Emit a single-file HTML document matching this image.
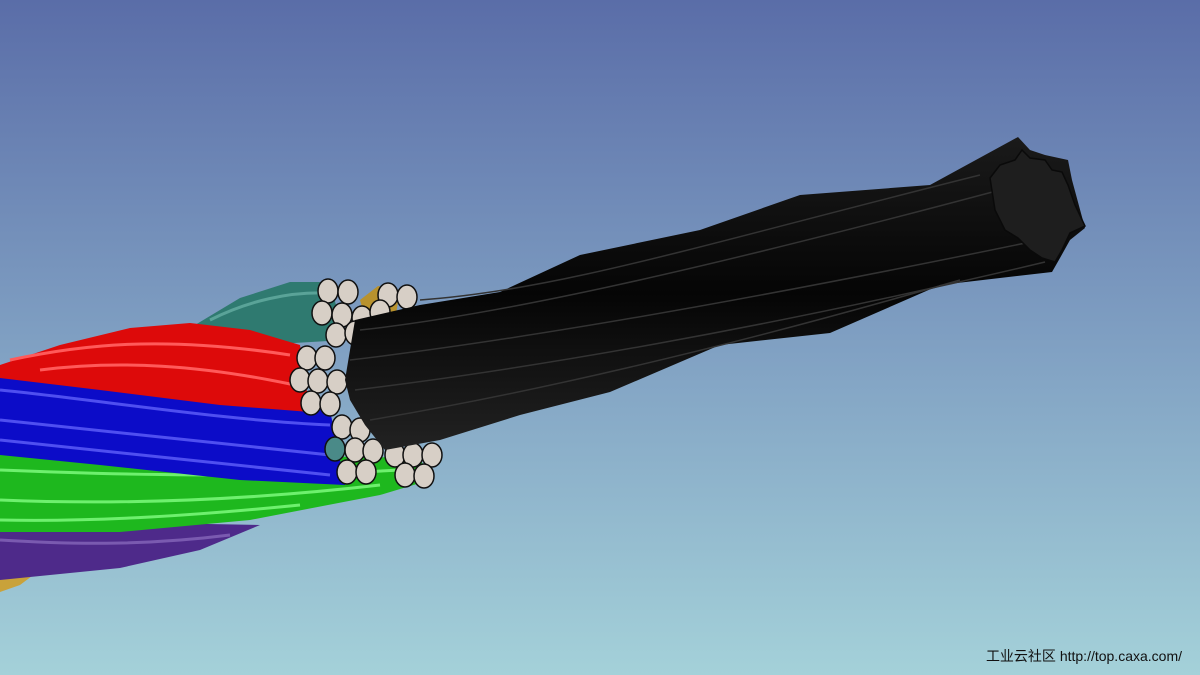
<!DOCTYPE html>
<html><head><meta charset="utf-8"><style>
html,body{margin:0;padding:0;width:1200px;height:675px;overflow:hidden}
.wm{position:absolute;right:18px;bottom:9px;font:14px "Liberation Sans","Noto Sans CJK SC",sans-serif;color:#111}
</style></head><body>
<svg width="1200" height="675" viewBox="0 0 1200 675" style="position:absolute;left:0;top:0">
<defs>
<linearGradient id="bg" x1="0" y1="0" x2="0" y2="1"><stop offset="0" stop-color="#5a6da8"/><stop offset="0.5" stop-color="#7f9fc2"/><stop offset="1" stop-color="#a4d1d9"/></linearGradient>
<linearGradient id="blk" x1="0" y1="0" x2="0" y2="1"><stop offset="0" stop-color="#1a1a1a"/><stop offset="0.5" stop-color="#050505"/><stop offset="1" stop-color="#222"/></linearGradient>
</defs>
<rect width="1200" height="675" fill="url(#bg)"/>
<polygon points="0,578 40,570 20,585 0,592" fill="#c9a23a"/>
<polygon points="360,300 378,286 400,290 395,320 365,318" fill="#b8922e"/>
<polygon points="0,520 260,525 200,550 120,568 0,580" fill="#4e2a8a"/>
<path d="M0,540 C80,545 150,545 230,535" stroke="#7a5ab0" stroke-width="3" fill="none"/>
<polygon points="195,325 240,298 290,282 330,282 345,340 260,345 200,335" fill="#2f7a70"/>
<path d="M210,320 C250,300 290,292 325,293" stroke="#5aa398" stroke-width="3" fill="none"/>
<polygon points="0,450 80,452 250,455 420,458 430,480 380,495 250,520 120,532 0,532" fill="#1eb81e"/>
<path d="M0,470 C120,475 260,478 400,470 M0,500 C120,505 250,500 380,485 M0,520 C100,522 200,515 300,505" stroke="#6ef06e" stroke-width="3" fill="none"/>
<polygon points="0,372 120,385 240,400 330,410 345,485 240,480 100,465 0,455" fill="#0c0cc8"/>
<path d="M0,390 C100,400 220,420 330,425 M0,420 C100,430 230,445 330,455 M0,440 C100,450 230,465 330,475" stroke="#4f4ff0" stroke-width="3" fill="none"/>
<polygon points="0,365 60,345 130,328 190,323 250,330 300,345 310,412 220,405 100,390 0,378" fill="#dd0a0a"/>
<path d="M10,360 C80,345 160,335 290,355 M40,370 C120,360 200,365 295,385" stroke="#ff5a5a" stroke-width="3" fill="none"/>
<g fill="#d7cfc6" stroke="#111" stroke-width="1.5">
<ellipse cx="328" cy="291" rx="10" ry="12"/><ellipse cx="348" cy="292" rx="10" ry="12"/>
<ellipse cx="322" cy="313" rx="10" ry="12"/><ellipse cx="342" cy="315" rx="10" ry="12"/><ellipse cx="362" cy="318" rx="10" ry="12"/>
<ellipse cx="336" cy="335" rx="10" ry="12"/><ellipse cx="355" cy="333" rx="10" ry="12"/>
<ellipse cx="388" cy="295" rx="10" ry="12"/><ellipse cx="407" cy="297" rx="10" ry="12"/><ellipse cx="380" cy="312" rx="10" ry="12"/>
<ellipse cx="307" cy="358" rx="10" ry="12"/><ellipse cx="325" cy="358" rx="10" ry="12"/>
<ellipse cx="300" cy="380" rx="10" ry="12"/><ellipse cx="318" cy="381" rx="10" ry="12"/><ellipse cx="337" cy="382" rx="10" ry="12"/>
<ellipse cx="311" cy="403" rx="10" ry="12"/><ellipse cx="330" cy="404" rx="10" ry="12"/>
<ellipse cx="342" cy="427" rx="10" ry="12"/><ellipse cx="360" cy="430" rx="10" ry="12"/>
<ellipse cx="335" cy="449" rx="10" ry="12" fill="#4a8a88"/><ellipse cx="355" cy="450" rx="10" ry="12"/><ellipse cx="373" cy="451" rx="10" ry="12"/>
<ellipse cx="395" cy="455" rx="10" ry="12"/><ellipse cx="413" cy="455" rx="10" ry="12"/><ellipse cx="432" cy="455" rx="10" ry="12"/>
<ellipse cx="347" cy="472" rx="10" ry="12"/><ellipse cx="366" cy="472" rx="10" ry="12"/>
<ellipse cx="405" cy="475" rx="10" ry="12"/><ellipse cx="424" cy="476" rx="10" ry="12"/>
</g>
<polygon points="355,320 420,305 500,292 580,255 700,230 800,195 930,185 1018,137 1030,150 1045,155 1068,160 1072,180 1085,228 1070,240 1060,258 1052,272 1000,278 940,285 830,333 720,345 610,392 520,415 440,440 385,450 365,425 350,400 345,380 350,350" fill="url(#blk)"/>
<g stroke="#333" stroke-width="1.5" fill="none">
<path d="M360,330 C500,315 700,270 1000,190"/>
<path d="M350,360 C520,340 750,300 1040,240"/>
<path d="M355,390 C520,370 760,330 1045,262"/>
<path d="M370,420 C520,395 720,350 960,280"/>
<path d="M420,300 C560,290 700,245 980,175"/>
</g>
<polygon points="990,178 1000,165 1015,160 1022,150 1030,158 1045,160 1052,170 1062,172 1068,185 1075,205 1085,226 1070,233 1062,250 1055,262 1042,258 1030,250 1018,238 1005,230 995,210" fill="#1e1e1e" stroke="#0a0a0a" stroke-width="1.5"/>
</svg>
<div class="wm">工业云社区 http://top.caxa.com/</div>
</body></html>
